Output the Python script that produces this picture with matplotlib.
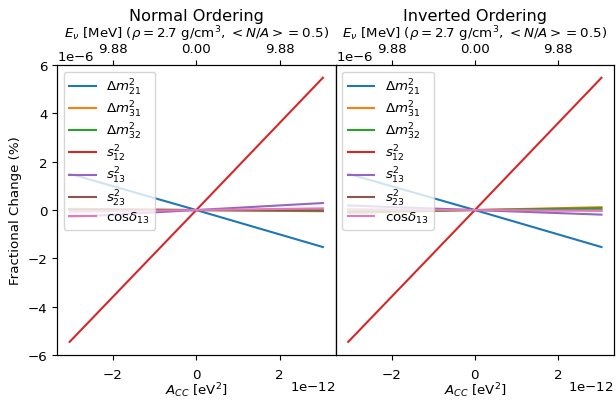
import numpy as np
import matplotlib.pyplot as plt

plt.rcParams['font.size'] = 9.6

# A_CC values (eV^2) at which the fractional changes were read
a_cc = [-3.04e-12, 0.0, 3.04e-12]

labels = [r'$\Delta m^2_{21}$', r'$\Delta m^2_{31}$', r'$\Delta m^2_{32}$',
          r'$s^2_{12}$', r'$s^2_{13}$', r'$s^2_{23}$', r'$\mathrm{cos}\delta_{13}$']

# fractional change (%) for normal ordering
no_dm21 = [1.50, 0.0, -1.53]
no_dm31 = [0.05, 0.0, -0.05]
no_dm32 = [0.03, 0.0, -0.03]
no_s12 = [-5.45, 0.0, 5.47]
no_s13 = [-0.29, 0.0, 0.29]
no_s23 = [0.01, 0.0, -0.01]
no_cosd = [-0.07, 0.0, 0.07]

# fractional change (%) for inverted ordering
io_dm21 = [1.50, 0.0, -1.53]
io_dm31 = [-0.12, 0.0, 0.12]
io_dm32 = [-0.08, 0.0, 0.08]
io_s12 = [-5.45, 0.0, 5.47]
io_s13 = [0.19, 0.0, -0.19]
io_s23 = [0.01, 0.0, -0.01]
io_cosd = [0.03, 0.0, -0.03]

bottom_ticks = [-2e-12, 0.0, 2e-12]
top_labels = ['9.88', '0.00', '9.88']

normal = [no_dm21, no_dm31, no_dm32, no_s12, no_s13, no_s23, no_cosd]
inverted = [io_dm21, io_dm31, io_dm32, io_s12, io_s13, io_s23, io_cosd]

fig, axes = plt.subplots(1, 2, figsize=(6.16, 4.02), dpi=100, sharey=True)
plt.subplots_adjust(left=0.0925, right=0.997, top=0.836, bottom=0.114, wspace=0)

for ax, curves, title in zip(axes, [normal, inverted],
                             ['Normal Ordering', 'Inverted Ordering']):
    for y, lab in zip(curves, labels):
        ax.plot(a_cc, y, label=lab)
    ax.set_ylim(-6, 6)
    ax.tick_params(axis='x', pad=6)
    ax.set_xlabel(r'$A_{CC}$ [eV$^2$]', labelpad=-1)
    ax.legend(loc='upper left', labelspacing=0.15)

    top = ax.twiny()
    top.set_xlim(ax.get_xlim())
    top.set_xticks(bottom_ticks)
    top.set_xticklabels(top_labels)
    top.set_xlabel(r'$E_\nu$ [MeV] ($\rho = 2.7$ g/cm$^3$, $<N/A> = 0.5$)',
                   labelpad=3.5)
    top.set_title(title, fontsize=11.6, pad=1)

    # offset texts placed by hand
    ax.xaxis.get_offset_text().set_visible(False)
    ax.text(1.0, -0.107, r'1e$-$12', transform=ax.transAxes, ha='right', va='center')
    ax.text(0.0, 1.028, r'1e$-$6', transform=ax.transAxes, ha='left', va='center')

axes[0].set_ylabel('Fractional Change (%)')
axes[1].tick_params(axis='y', left=False)

plt.savefig('out.png', dpi=100)
